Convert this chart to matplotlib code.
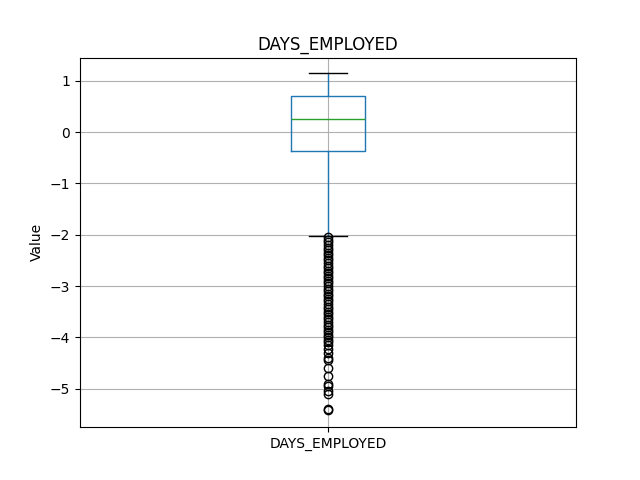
import matplotlib
matplotlib.use('Agg')
import matplotlib.pyplot as plt

label = 'DAYS_EMPLOYED'
q1 = -0.37
median = 0.25
q3 = 0.70
whisker_low = -2.02
whisker_high = 1.15
fliers = [-2.05, -2.1, -2.15, -2.2, -2.25, -2.3, -2.35, -2.4, -2.45, -2.5,
          -2.55, -2.6, -2.65, -2.7, -2.75, -2.8, -2.85, -2.9, -2.95, -3.0,
          -3.05, -3.1, -3.15, -3.2, -3.25, -3.3, -3.35, -3.4, -3.45, -3.5,
          -3.55, -3.6, -3.65, -3.7, -3.75, -3.8, -3.85, -3.9, -3.95, -4.0,
          -4.05, -4.1, -4.15, -4.22, -4.3, -4.4, -4.45, -4.6, -4.75,
          -4.9, -4.95, -5.05, -5.1, -5.4, -5.42]

stats = [{'label': label, 'q1': q1, 'med': median, 'q3': q3,
          'whislo': whisker_low, 'whishi': whisker_high, 'fliers': fliers}]

fig, ax = plt.subplots(figsize=(6.4, 4.8), dpi=100)
ax.bxp(stats, widths=0.15,
       boxprops=dict(color='C0'),
       whiskerprops=dict(color='C0'),
       capprops=dict(color='k'),
       medianprops=dict(color='C2'),
       flierprops=dict(marker='o', markerfacecolor='none', markeredgecolor='k'))
ax.grid(True)
ax.set_ylim(-5.75, 1.45)
ax.set_title(label)
ax.set_ylabel('Value')
fig.savefig('out.png')
